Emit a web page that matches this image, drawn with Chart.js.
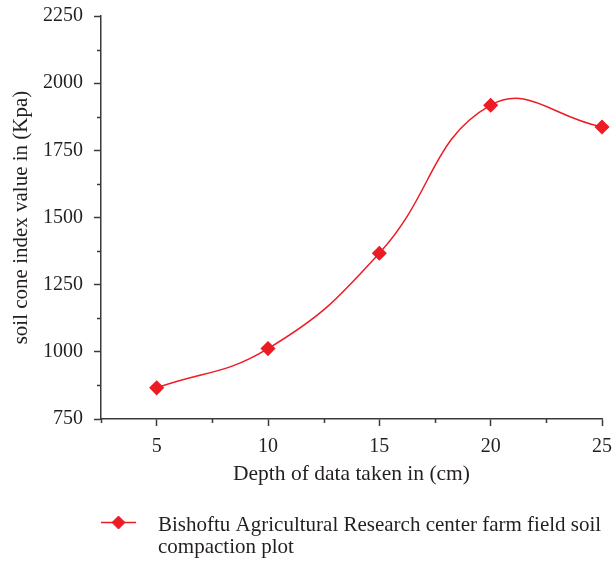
<!DOCTYPE html>
<html>
<head>
<meta charset="utf-8">
<script src="https://cdn.jsdelivr.net/npm/chart.js@4/dist/chart.umd.min.js"></script>
<style>
  html, body { margin: 0; padding: 0; background: #ffffff; }
  #wrap { width: 613px; height: 563px; }
</style>
</head>
<body>
<div id="wrap"><canvas id="c" width="613" height="563"></canvas></div>
<script>
// Soil cone index measured at each sampling depth
const depths = [5, 10, 15, 20, 25];
const coneIndex = [866, 1012, 1367, 1918, 1837];
const xTickValues = [5, 10, 15, 20, 25];
const yTickValues = [750, 1000, 1250, 1500, 1750, 2000, 2250];
const seriesLabel = 'Bishoftu Agricultural Research center farm field soil compaction plot';
const xTitle = 'Depth of data taken in (cm)';
const yTitle = 'soil cone index value in (Kpa)';

const RED = '#ed1c24';
const INK = '#231f20';
const AXIS = '#3a3a3a';
const FONT = "'Liberation Serif', 'DejaVu Serif', serif";

// Short ticks half-way between the labelled ones
const minorTicks = {
  id: 'minorTicks',
  afterDatasetsDraw(chart) {
    const ctx = chart.ctx;
    ctx.save();
    ctx.strokeStyle = AXIS;
    ctx.lineWidth = 1.5;
    const len = 4;
    ['x', 'y'].forEach(id => {
      const s = chart.scales[id];
      const vals = s.ticks.map(t => t.value);
      const step = vals[1] - vals[0];
      ctx.beginPath();
      for (let v = vals[0] - step / 2; v <= s.max + 1e-9; v += step) {
        if (v < s.min - 1e-9) continue;
        const p = Math.round(s.getPixelForValue(v)) + 0.5;
        if (id === 'x') {
          ctx.moveTo(p, s.top);
          ctx.lineTo(p, s.top + len);
        } else {
          ctx.moveTo(s.right, p);
          ctx.lineTo(s.right - len, p);
        }
      }
      ctx.stroke();
    });
    ctx.restore();
  }
};

// Legend under the plot, wrapped onto several lines
const wrappedLegend = {
  id: 'wrappedLegend',
  afterDraw(chart) {
    const ctx = chart.ctx;
    const ds = chart.data.datasets[0];
    const left = chart.chartArea.left;
    const lineY = 522.5;
    const textX = 158;

    ctx.save();
    ctx.strokeStyle = ds.borderColor;
    ctx.lineWidth = 1.5;
    ctx.beginPath();
    ctx.moveTo(left, lineY);
    ctx.lineTo(left + 35, lineY);
    ctx.stroke();
    ctx.fillStyle = ds.pointBackgroundColor;
    ctx.strokeStyle = ds.pointBorderColor;
    ctx.lineWidth = 1;
    Chart.helpers.drawPoint(ctx, {
      pointStyle: ds.pointStyle, radius: ds.pointRadius, borderWidth: 1, rotation: 0
    }, left + 17.5, lineY);
    ctx.restore();

    ctx.save();
    ctx.font = '21px ' + FONT;
    ctx.fillStyle = INK;
    ctx.textBaseline = 'alphabetic';
    const maxW = chart.width - textX - 2;
    const words = ds.label.split(' ');
    const lines = [];
    let cur = '';
    words.forEach(w => {
      const t = cur ? cur + ' ' + w : w;
      if (ctx.measureText(t).width > maxW && cur) { lines.push(cur); cur = w; }
      else cur = t;
    });
    if (cur) lines.push(cur);
    lines.forEach((l, i) => ctx.fillText(l, textX, 530.5 + i * 22));
    ctx.restore();
  }
};

const tickFont = { family: FONT, size: 20 };
const titleFont = { family: FONT, size: 21.5 };

new Chart(document.getElementById('c'), {
  type: 'line',
  data: {
    datasets: [{
      label: seriesLabel,
      data: depths.map((d, i) => ({ x: d, y: coneIndex[i] })),
      borderColor: RED,
      backgroundColor: RED,
      pointBackgroundColor: RED,
      pointBorderColor: RED,
      borderWidth: 1.5,
      pointStyle: 'rectRot',
      pointRadius: 6.5,
      pointHoverRadius: 6.5,
      tension: 0.44,
      clip: false,
      fill: false
    }]
  },
  options: {
    responsive: false,
    animation: false,
    devicePixelRatio: 1,
    layout: { autoPadding: false, padding: { left: 0, right: 11, top: 16, bottom: 72 } },
    plugins: {
      legend: { display: false },
      tooltip: { enabled: false }
    },
    scales: {
      x: {
        type: 'linear',
        min: 2.5,
        max: 25,
        afterBuildTicks: s => { s.ticks = xTickValues.map(v => ({ value: v })); },
        afterFit: s => { s.height = 72; s.paddingLeft = 0; s.paddingRight = 0; },
        border: { display: true, color: AXIS, width: 1.5 },
        grid: { display: true, drawOnChartArea: false, drawTicks: true, tickLength: 7, tickColor: AXIS, tickWidth: 1.5 },
        ticks: { color: INK, font: tickFont, padding: 9, maxRotation: 0, autoSkip: false, callback: v => String(v) },
        title: { display: true, text: xTitle, color: INK, font: titleFont, padding: { top: 0, bottom: 4 } }
      },
      y: {
        type: 'linear',
        min: 750,
        max: 2250,
        afterBuildTicks: s => { s.ticks = yTickValues.map(v => ({ value: v })); },
        afterFit: s => { s.width = 101; s.paddingTop = 0; s.paddingBottom = 0; },
        border: { display: true, color: AXIS, width: 1.5 },
        grid: { display: true, drawOnChartArea: false, drawTicks: true, tickLength: 7, tickColor: AXIS, tickWidth: 1.5 },
        ticks: { color: INK, font: tickFont, padding: 11, autoSkip: false, callback: v => String(v) },
        title: { display: true, text: yTitle, color: INK, font: { family: FONT, size: 21 }, padding: { top: 9, bottom: 0 } }
      }
    }
  },
  plugins: [minorTicks, wrappedLegend]
});
</script>
</body>
</html>
